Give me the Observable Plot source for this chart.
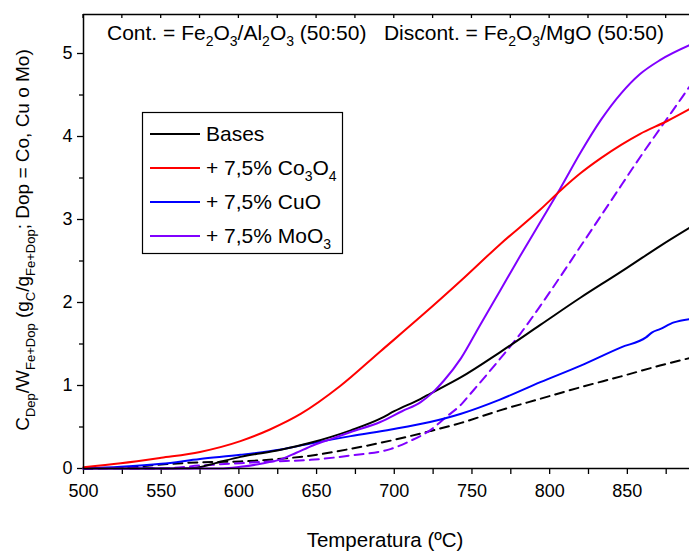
<!DOCTYPE html>
<html>
<head>
<meta charset="utf-8">
<script src="https://cdn.jsdelivr.net/npm/d3@7"></script>
<script src="https://cdn.jsdelivr.net/npm/@observablehq/plot@0.6"></script>
<style>
  html, body { margin: 0; padding: 0; background: #fff; }
  #chart { width: 689px; height: 553px; }
</style>
</head>
<body>
<div id="chart"></div>
<script>
// ---- data ----
const xDomain = [500, 890];
const yDomain = [0, 5.47];
const xTicks = [500, 525, 550, 575, 600, 625, 650, 675, 700, 725, 750, 775, 800, 825, 850, 875];
const xLabelTicks = [500, 550, 600, 650, 700, 750, 800, 850];
const yTicks = [0, 1, 2, 3, 4, 5];
const yMinorTicks = [0.5, 1.5, 2.5, 3.5, 4.5];

// Solid: Fe2O3/Al2O3 (50:50)
const basesCont = [[500,0],[550,0],[565,0.003],[573,0.01],[585,0.065],[601,0.14],[627,0.225],[646,0.31],[672,0.46],[691,0.6],[700,0.69],[717,0.84],[723,0.9],[743,1.1],[768,1.4],[794,1.73],[820,2.06],[840,2.3],[850,2.42],[871,2.68],[890,2.9]];
const coCont = [[500,0.016],[524,0.064],[550,0.13],[575,0.2],[601,0.33],[620,0.47],[640,0.66],[665,0.99],[691,1.41],[717,1.83],[743,2.265],[768,2.7],[794,3.12],[807,3.35],[820,3.56],[833,3.74],[846,3.9],[858,4.03],[876,4.19],[890,4.33]];
const cuCont = [[500,0],[524,0.02],[550,0.056],[575,0.115],[601,0.165],[627,0.23],[646,0.3],[672,0.39],[698,0.47],[723,0.56],[743,0.66],[768,0.83],[794,1.04],[820,1.24],[846,1.46],[862,1.58],[866,1.64],[871,1.68],[880,1.76],[890,1.8]];
const moCont = [[500,0],[590,0],[601,0.02],[615,0.06],[627,0.11],[637,0.19],[648,0.28],[660,0.36],[672,0.44],[691,0.56],[705,0.69],[717,0.8],[725,0.92],[732,1.06],[743,1.33],[755,1.72],[768,2.14],[781,2.56],[794,2.97],[807,3.38],[820,3.81],[833,4.2],[846,4.52],[858,4.75],[871,4.92],[890,5.1]];
// Dashed: Fe2O3/MgO (50:50)
const basesDisc = [[500,0],[524,0.01],[550,0.048],[575,0.075],[601,0.085],[627,0.117],[646,0.155],[672,0.237],[698,0.337],[723,0.45],[743,0.55],[768,0.7],[794,0.84],[820,0.98],[846,1.11],[871,1.24],[890,1.33]];
const moDisc = [[530,0],[550,0],[575,0.036],[601,0.064],[620,0.084],[646,0.104],[672,0.157],[698,0.237],[710,0.33],[723,0.46],[734,0.63],[743,0.77],[749,0.9],[755,1.03],[768,1.32],[781,1.62],[794,1.96],[801,2.15],[820,2.68],[840,3.24],[860,3.8],[875,4.2],[890,4.6]];
const cuDisc = [[500,0],[525,0.004],[548,0.008]];

const legendItems = [
  {color: "#000000", parts: [["Bases", 0]]},
  {color: "#ff0000", parts: [["+ 7,5% Co", 0], ["3", 1], ["O", 0], ["4", 1]]},
  {color: "#0000ff", parts: [["+ 7,5% CuO", 0]]},
  {color: "#8000ff", parts: [["+ 7,5% MoO", 0], ["3", 1]]}
];
const headerParts = [["Cont. = Fe",0],["2",1],["O",0],["3",1],["/Al",0],["2",1],["O",0],["3",1],[" (50:50)\u00a0\u00a0\u00a0Discont. = Fe",0],["2",1],["O",0],["3",1],["/MgO (50:50)",0]];
const yLabelParts = [["C",0],["Dep",1],["/W",0],["Fe+Dop",1],[" (g",0],["C",1],["/g",0],["Fe+Dop",1],["; Dop = Co, Cu o Mo)",0]];
const xLabel = "Temperatura (ºC)";

const FONT = "'Liberation Sans', Arial, sans-serif";
const lw = 2;
const dash = "9,6";
const X = d => d[0], Y = d => d[1];

const svg = Plot.plot({
  width: 689,
  height: 553,
  marginLeft: 83,
  marginRight: 0,
  marginTop: 14,
  marginBottom: 85,
  style: {fontFamily: FONT, background: "white", color: "black"},
  x: {domain: xDomain},
  y: {domain: yDomain},
  marks: [
    Plot.axisX({ticks: xTicks, tickFormat: d => xLabelTicks.includes(d) ? String(d) : "", tickSize: 6, tickPadding: 10, fontSize: 18, label: null, strokeWidth: 1.3}),
    Plot.axisY({ticks: yTicks, tickFormat: d => String(d), tickSize: 6, tickPadding: 5, fontSize: 18, label: null, strokeWidth: 1.3}),
    Plot.axisY({ticks: yMinorTicks, tickSize: 4, tickFormat: () => "", label: null, strokeWidth: 1.3}),
    Plot.line(cuDisc, {x: X, y: Y, stroke: "#0000ff", strokeWidth: lw, strokeDasharray: dash, curve: "monotone-x"}),
    Plot.line(basesDisc, {x: X, y: Y, stroke: "#000000", strokeWidth: lw, strokeDasharray: dash, curve: "monotone-x"}),
    Plot.line(moDisc, {x: X, y: Y, stroke: "#8000ff", strokeWidth: lw, strokeDasharray: dash, curve: "monotone-x"}),
    Plot.line(cuCont, {x: X, y: Y, stroke: "#0000ff", strokeWidth: lw, curve: "monotone-x"}),
    Plot.line(basesCont, {x: X, y: Y, stroke: "#000000", strokeWidth: lw, curve: "monotone-x"}),
    Plot.line(moCont, {x: X, y: Y, stroke: "#8000ff", strokeWidth: lw, curve: "monotone-x"}),
    Plot.line(coCont, {x: X, y: Y, stroke: "#ff0000", strokeWidth: lw, curve: "monotone-x"}),
    Plot.ruleX([xDomain[0]], {stroke: "black", strokeWidth: 1.5}),
    Plot.ruleY([yDomain[0]], {stroke: "black", strokeWidth: 1.5}),
    Plot.ruleY([yDomain[1]], {stroke: "black", strokeWidth: 1.5})
  ]
});

const sx = svg.scale("x"), sy = svg.scale("y");
const s = d3.select(svg);

// top axis ticks pointing inward
const yTop = sy.apply(yDomain[1]);
s.append("g").selectAll("line").data(xTicks).join("line")
  .attr("x1", d => sx.apply(d)).attr("x2", d => sx.apply(d))
  .attr("y1", yTop).attr("y2", yTop + 4)
  .attr("stroke", "black").attr("stroke-width", 1.3);

function rich(sel, parts, size) {
  const sub = Math.round(size * 0.68);
  const shift = size * 0.3;
  let down = false;
  parts.forEach(([t, isSub]) => {
    const ts = sel.append("tspan").text(t);
    if (isSub) {
      ts.attr("font-size", sub);
      if (!down) { ts.attr("dy", shift); down = true; }
    } else {
      ts.attr("font-size", size);
      if (down) { ts.attr("dy", -shift); down = false; }
    }
  });
}

// header
rich(s.append("text").attr("x", 107).attr("y", 40).attr("text-anchor", "start")
  .attr("font-family", FONT).attr("fill", "black"), headerParts, 21);

// x label
s.append("text").attr("x", 385).attr("y", 547).attr("text-anchor", "middle")
  .attr("font-family", FONT).attr("font-size", 20.5).attr("fill", "black").text(xLabel);

// y label
rich(s.append("text").attr("transform", "translate(29,240) rotate(-90)").attr("text-anchor", "middle")
  .attr("font-family", FONT).attr("fill", "black"), yLabelParts, 19);

// legend
const lg = s.append("g").attr("text-anchor", "start");
lg.append("rect").attr("x", 142.5).attr("y", 112.5).attr("width", 200).attr("height", 141)
  .attr("fill", "white").attr("stroke", "black").attr("stroke-width", 1.2);
legendItems.forEach((it, i) => {
  const yy = 134 + i * 34;
  lg.append("line").attr("x1", 150).attr("x2", 200).attr("y1", yy).attr("y2", yy)
    .attr("stroke", it.color).attr("stroke-width", lw);
  rich(lg.append("text").attr("x", 206).attr("y", yy + 7).attr("text-anchor", "start")
    .attr("font-family", FONT).attr("fill", "black"), it.parts, 21);
});

document.getElementById("chart").appendChild(svg);
</script>
</body>
</html>
